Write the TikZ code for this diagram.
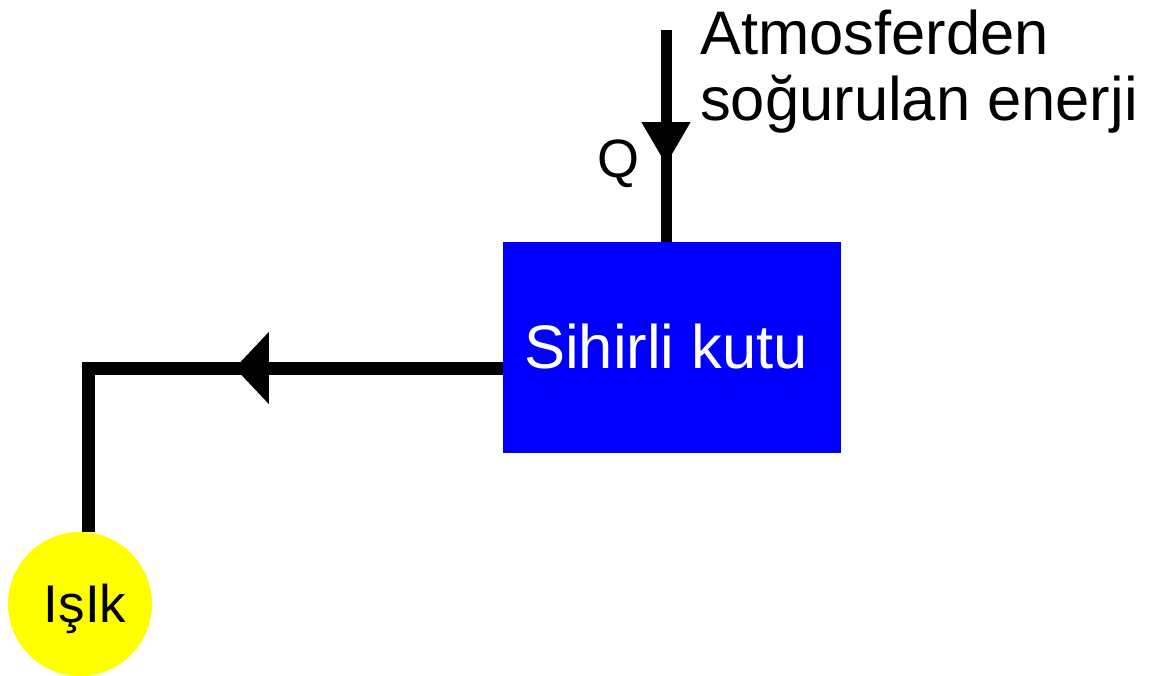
\documentclass[tikz,border=0pt]{standalone}
\usepackage{fontspec}
\setmainfont{Liberation Sans}
\usetikzlibrary{arrows.meta,decorations.markings}
\begin{document}
\begin{tikzpicture}[x=1pt,y=-1pt,
  flow/.style={line width=#1, line join=miter},
  boxstyle/.style={rectangle, fill={rgb,255:red,0;green,0;blue,250}, draw=none,
    minimum width=338pt, minimum height=211pt, inner sep=0pt},
  lampstyle/.style={circle, fill={rgb,255:red,255;green,255;blue,0}, draw=none,
    minimum size=144pt, inner sep=0pt},
  lbl/.style={font=\fontsize{61.5}{66}\selectfont, inner sep=0pt}
]
\useasboundingbox (0,0) rectangle (1157,675);

% magic box and light
\node[boxstyle] (box) at (672,347.5) {};
\node[lbl, text=white, anchor=base] (boxtxt) at (666,368) {Sihirli kutu};
\node[lampstyle] (lamp) at (80,604) {};
\node[font=\fontsize{53}{58}\selectfont, inner sep=0pt, anchor=base]
  (lamptxt) at (85,622) {IşIk};

% free ends and bends of the connectors
\coordinate (qtop) at (666,30);
\coordinate (corner) at (88,368);

% absorbed heat flowing into the box
\draw[flow=11pt, decoration={markings,
    mark=at position 135pt with {\arrow{Triangle[length=43pt,width=46pt]}}},
  postaction={decorate}]
  (qtop) -- (qtop |- box.north);

% light going out of the box
\draw[flow=13pt, decoration={markings,
    mark=at position 268pt with {\arrow{Triangle[length=34pt,width=70pt]}}},
  postaction={decorate}]
  (box.west |- corner) -- (corner) -- (corner |- lamp.north);

% labels
\node[font=\fontsize{54}{60}\selectfont, inner sep=0pt, anchor=base] (q) at (618,177) {Q};
\node[lbl, anchor=base west] (atm) at (700,54) {Atmosferden};
\node[lbl, anchor=base west] (sog) at (700,120) {soğurulan enerji};
\end{tikzpicture}
\end{document}
